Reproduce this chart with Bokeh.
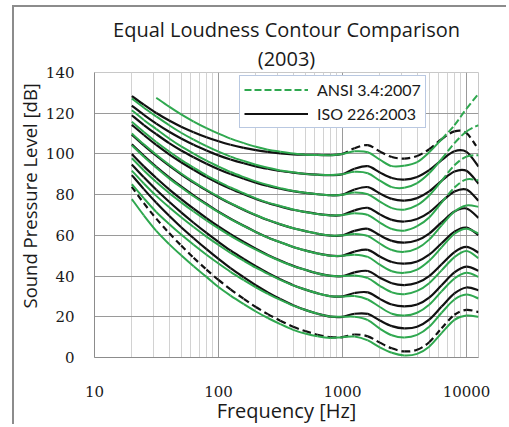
import math
from bokeh.plotting import figure
from bokeh.layouts import row, column
from bokeh.models import (FixedTicker, Legend, LegendItem, Range1d, Title,
                          PrintfTickFormatter, ColumnDataSource, Spacer)
from bokeh.embed import file_html
from bokeh.resources import INLINE

nan = float("nan")

# ---------------- data ----------------
FREQ = [20, 25, 31.5, 40, 50, 63, 80, 100, 125, 160, 200, 250, 315, 400, 500,
        630, 800, 1000, 1250, 1600, 2000, 2500, 3150, 4000, 5000, 6300, 8000,
        10000, 12500]
PHONS = [10, 20, 30, 40, 50, 60, 70, 80, 90, 100]

# ISO 226:2003 contours (dB SPL)
iso_p10 = [83.8, 75.8, 68.2, 61.1, 55.0, 49.0, 43.2, 38.1, 33.5, 28.8, 24.8, 21.3, 18.1, 15.1, 13.0, 11.2, 10.0, 10.0, 11.3, 10.4, 7.3, 4.5, 3.0, 3.8, 7.5, 14.4, 21.0, 23.4, 22.3]
iso_p20 = [89.6, 82.7, 76.0, 69.6, 64.0, 58.6, 53.2, 48.4, 43.9, 39.4, 35.5, 32.0, 28.7, 25.7, 23.4, 21.5, 20.1, 20.0, 21.5, 21.4, 18.2, 15.4, 14.3, 15.1, 18.6, 25.0, 31.5, 34.4, 33.0]
iso_p30 = [94.8, 88.5, 82.4, 76.5, 71.3, 66.2, 61.2, 56.8, 52.6, 48.4, 44.8, 41.5, 38.4, 35.5, 33.4, 31.5, 30.1, 30.0, 31.7, 32.0, 28.8, 26.0, 25.1, 26.0, 29.4, 35.5, 41.8, 44.6, 42.6]
iso_p40 = [99.9, 93.9, 88.2, 82.6, 77.8, 73.1, 68.5, 64.4, 60.6, 56.7, 53.4, 50.4, 47.6, 45.0, 43.1, 41.3, 40.1, 40.0, 41.8, 42.5, 39.2, 36.5, 35.6, 36.7, 40.0, 45.8, 51.8, 54.3, 51.5]
iso_p50 = [104.7, 99.1, 93.7, 88.5, 84.0, 79.6, 75.4, 71.6, 68.2, 64.7, 61.7, 59.0, 56.6, 54.3, 52.6, 51.1, 50.0, 50.0, 52.0, 52.9, 49.6, 46.9, 46.1, 47.2, 50.5, 56.1, 61.8, 63.8, 60.1]
iso_p60 = [109.5, 104.2, 99.1, 94.2, 90.0, 85.9, 82.1, 78.7, 75.6, 72.5, 69.9, 67.5, 65.4, 63.5, 62.1, 60.8, 59.9, 60.0, 62.2, 63.2, 60.0, 57.3, 56.4, 57.6, 60.9, 66.4, 71.7, 73.2, 68.6]
iso_p70 = [114.3, 109.3, 104.4, 99.8, 95.9, 92.2, 88.6, 85.6, 82.9, 80.2, 77.9, 75.9, 74.2, 72.6, 71.5, 70.5, 69.8, 70.0, 72.3, 73.5, 70.3, 67.6, 66.8, 68.0, 71.3, 76.6, 81.5, 82.5, 77.0]
iso_p80 = [119.0, 114.2, 109.7, 105.3, 101.7, 98.4, 95.2, 92.5, 90.1, 87.8, 85.9, 84.3, 82.9, 81.7, 80.9, 80.2, 79.7, 80.0, 82.5, 83.7, 80.6, 77.9, 77.1, 78.3, 81.6, 86.8, 91.4, 91.7, 85.4]
iso_p90 = [123.7, 119.2, 114.9, 110.9, 107.6, 104.5, 101.7, 99.3, 97.3, 95.4, 93.9, 92.7, 91.6, 90.8, 90.2, 89.8, 89.6, 90.0, 92.7, 94.0, 90.9, 88.2, 87.4, 88.7, 92.0, 97.0, 101.3, 101.0, 93.8]
iso_p100 = [128.4, 124.2, 120.1, 116.4, 113.4, 110.7, 108.2, 106.2, 104.5, 103.0, 101.9, 101.0, 100.3, 99.8, 99.6, 99.5, 99.4, 100.0, 102.8, 104.3, 101.2, 98.5, 97.7, 99.0, 102.3, 107.2, 111.1, 110.2, 102.1]

# ANSI S3.4:2007 contours (dB SPL)
ansi_p10 = [77.8, 69.8, 62.2, 55.7, 50.2, 44.8, 39.6, 34.6, 30.4, 26.2, 22.6, 19.4, 16.4, 13.6, 11.8, 10.4, 9.6, 10.0, 10.3, 8.4, 5.0, 2.3, 1.0, 1.8, 5.3, 12.0, 18.5, 20.6, 20.0]
ansi_p20 = [85.1, 78.2, 71.5, 65.6, 60.4, 55.4, 50.5, 46.2, 42.1, 38.0, 34.5, 31.3, 28.3, 25.5, 23.4, 21.5, 20.1, 20.0, 20.0, 18.4, 14.2, 10.9, 9.8, 11.1, 15.1, 22.0, 28.5, 30.9, 29.0]
ansi_p30 = [91.8, 85.5, 79.4, 73.8, 68.9, 64.1, 59.4, 55.3, 51.4, 47.5, 44.1, 41.1, 38.1, 35.4, 33.4, 31.5, 30.1, 30.0, 30.2, 28.5, 24.8, 21.5, 20.6, 22.0, 25.9, 32.5, 38.8, 41.6, 39.6]
ansi_p40 = [97.9, 91.9, 86.2, 80.8, 76.2, 71.7, 67.3, 63.4, 59.8, 56.1, 53.0, 50.1, 47.4, 44.9, 43.1, 41.3, 40.1, 40.0, 40.3, 39.0, 35.2, 32.0, 31.1, 32.7, 36.5, 42.8, 49.3, 52.3, 48.8]
ansi_p50 = [104.2, 98.6, 93.2, 88.0, 83.6, 79.2, 75.1, 71.4, 68.0, 64.6, 61.6, 58.9, 56.6, 54.3, 52.6, 51.1, 50.0, 50.0, 50.5, 49.4, 45.6, 42.4, 41.6, 43.2, 47.5, 54.1, 60.8, 63.3, 60.9]
ansi_p60 = [110.0, 104.7, 99.6, 94.7, 90.4, 86.3, 82.4, 79.0, 75.8, 72.7, 70.0, 67.6, 65.5, 63.5, 62.1, 60.8, 59.9, 60.0, 60.7, 59.7, 56.0, 52.8, 51.9, 53.6, 57.9, 64.9, 71.7, 74.7, 74.0]
ansi_p70 = [115.8, 110.8, 105.9, 101.2, 97.1, 93.3, 89.5, 86.4, 83.5, 80.7, 78.2, 76.1, 74.4, 72.7, 71.5, 70.5, 69.8, 70.0, 70.8, 70.0, 66.3, 63.1, 62.3, 64.5, 68.8, 76.1, 83.5, 87.5, 87.0]
ansi_p80 = [121.5, 116.7, 112.2, 107.6, 103.7, 100.2, 96.7, 93.8, 91.1, 88.6, 86.5, 84.7, 83.2, 81.8, 80.9, 80.2, 79.7, 80.0, 81.0, 80.2, 76.6, 73.4, 72.6, 74.8, 79.6, 86.8, 94.4, 98.7, 99.4]
ansi_p90 = [127.2, 122.7, 118.4, 114.1, 110.4, 107.0, 103.8, 101.1, 98.7, 96.5, 94.7, 93.2, 91.9, 91.0, 90.2, 89.8, 89.6, 90.0, 91.2, 90.5, 86.9, 83.7, 83.4, 85.7, 90.5, 97.5, 105.3, 111.0, 114.2]
ansi_p100 = [nan, nan, 127.6, 123.2, 119.4, 115.9, 112.7, 110.0, 107.5, 105.3, 103.5, 102.1, 101.1, 100.2, 99.6, 99.5, 99.4, 100.0, 101.3, 100.8, 97.2, 94.0, 94.2, 96.0, 100.8, 107.2, 114.1, 122.2, 129.6]

X_MAJOR = [10, 100, 1000, 10000]
X_MINOR = [20, 30, 40, 50, 60, 70, 80, 90, 200, 300, 400, 500, 600, 700, 800,
           900, 2000, 3000, 4000, 5000, 6000, 7000, 8000, 9000]
Y_TICKS = [0, 20, 40, 60, 80, 100, 120, 140]

TITLE_1 = "Equal Loudness Contour Comparison"
TITLE_2 = "(2003)"
X_TITLE = "Frequency [Hz]"
Y_TITLE = "Sound Pressure Level [dB]"
ANSI_NAME = "ANSI 3.4:2007"
ISO_NAME = "ISO 226:2003"

iso_curves = [iso_p10, iso_p20, iso_p30, iso_p40, iso_p50, iso_p60, iso_p70,
              iso_p80, iso_p90, iso_p100]
ansi_curves = [ansi_p10, ansi_p20, ansi_p30, ansi_p40, ansi_p50, ansi_p60,
               ansi_p70, ansi_p80, ansi_p90, ansi_p100]

GREEN = "#2fa84f"
BLACK = "#111111"
AXIS_GRAY = "#8c8c8c"
TEXT = "#1a1a1a"

# ---------------- figure ----------------
fig = figure(width=494, height=419, x_axis_type="log",
             x_range=Range1d(10, 12500), y_range=Range1d(0, 140),
             output_backend="svg", toolbar_location=None,
             min_border_left=80, min_border_right=30,
             min_border_top=65, min_border_bottom=69)
fig.styles = {"border-left": "2px solid #8c8c8c",
              "border-top": "2px solid #8c8c8c"}
fig.background_fill_color = "white"
fig.border_fill_color = "white"
fig.outline_line_color = "#c8c8c8"
fig.outline_line_width = 1

# titles: the default title is the outer one, the added one sits nearer the frame
fig.title.text = TITLE_1
fig.title.align = "center"
fig.title.standoff = 0
fig.title.text_font = "Open Sans"
fig.title.text_font_size = "20px"
fig.title.text_font_style = "normal"
fig.title.text_color = TEXT
fig.add_layout(Title(text=TITLE_2, align="center", standoff=1,
                     text_font="Open Sans", text_font_size="20px",
                     text_font_style="normal", text_color=TEXT), "above")
fig.add_layout(Title(text=Y_TITLE, align="left", offset=49, standoff=1,
                     text_font="Open Sans", text_font_size="18.5px",
                     text_font_style="normal", text_color=TEXT), "left")

fig.xaxis.ticker = FixedTicker(ticks=X_MAJOR, minor_ticks=X_MINOR)
fig.xaxis.formatter = PrintfTickFormatter(format="%d")
fig.yaxis.ticker = FixedTicker(ticks=Y_TICKS)
for ax in (fig.xaxis, fig.yaxis):
    ax.major_tick_line_color = None
    ax.minor_tick_line_color = None
    ax.major_tick_out = 0
    ax.major_tick_in = 0
    ax.axis_line_color = AXIS_GRAY
    ax.axis_line_width = 1
    ax.major_label_text_font = "DejaVu Serif"
    ax.major_label_text_font_size = "15px"
    ax.major_label_text_color = TEXT
fig.xaxis.major_label_standoff = 24
fig.yaxis.major_label_standoff = 20
fig.xaxis.axis_label = X_TITLE
fig.xaxis.axis_label_standoff = -3
fig.xaxis.axis_label_text_font = "Open Sans"
fig.xaxis.axis_label_text_font_size = "20px"
fig.xaxis.axis_label_text_font_style = "normal"
fig.xaxis.axis_label_text_color = TEXT

fig.xgrid.grid_line_color = "#9a9a9a"
fig.xgrid.minor_grid_line_color = "#d2d2d2"
fig.ygrid.grid_line_color = "#9a9a9a"


# ---------------- smooth (Excel-like) drawing of the read points ----------
def bezier_parts(xs, ys, split_at=None):
    """Return (before, after) bezier segment dicts; split at data index."""
    pts = [(i, math.log10(x), y) for i, (x, y) in enumerate(zip(xs, ys))
           if not math.isnan(y)]
    n = len(pts)
    parts = [dict(x0=[], y0=[], x1=[], y1=[], cx0=[], cy0=[], cx1=[], cy1=[])
             for _ in range(2)]
    for k in range(n - 1):
        p0 = pts[max(k - 1, 0)]
        p1 = pts[k]
        p2 = pts[k + 1]
        p3 = pts[min(k + 2, n - 1)]
        c1x = p1[1] + (p2[1] - p0[1]) / 6.0
        c1y = p1[2] + (p2[2] - p0[2]) / 6.0
        c2x = p2[1] - (p3[1] - p1[1]) / 6.0
        c2y = p2[2] - (p3[2] - p1[2]) / 6.0
        d = parts[1 if (split_at is not None and p1[0] >= split_at) else 0]
        d["x0"].append(10 ** p1[1]); d["y0"].append(p1[2])
        d["x1"].append(10 ** p2[1]); d["y1"].append(p2[2])
        d["cx0"].append(10 ** c1x); d["cy0"].append(c1y)
        d["cx1"].append(10 ** c2x); d["cy1"].append(c2y)
    return parts


def draw(seg, color, width, dash="solid"):
    if not seg["x0"]:
        return None
    return fig.bezier(x0="x0", y0="y0", x1="x1", y1="y1", cx0="cx0",
                      cy0="cy0", cx1="cx1", cy1="cy1",
                      source=ColumnDataSource(seg), line_color=color,
                      line_width=width, line_dash=dash)


iso_legend_r = None
k1000 = FREQ.index(1000)
for ph, ys in zip(PHONS, iso_curves):
    if ph == 10:
        a, b = bezier_parts(FREQ, ys)
        draw(a, BLACK, 2.2, "6 4")
    elif ph == 100:
        a, b = bezier_parts(FREQ, ys, split_at=k1000)
        draw(a, BLACK, 2.2)
        draw(b, BLACK, 2.2, "6 4")
    else:
        a, b = bezier_parts(FREQ, ys)
        r = draw(a, BLACK, 2.2)
        iso_legend_r = iso_legend_r or r

ansi_legend_r = None
k6300 = FREQ.index(6300)
for ph, ys in zip(PHONS, ansi_curves):
    if ph >= 70:
        a, b = bezier_parts(FREQ, ys, split_at=k6300)
        draw(a, GREEN, 2)
        r = draw(b, GREEN, 2, "7 3")
        ansi_legend_r = ansi_legend_r or r
    else:
        a, b = bezier_parts(FREQ, ys)
        draw(a, GREEN, 2)

legend = Legend(items=[LegendItem(label=ANSI_NAME, renderers=[ansi_legend_r]),
                       LegendItem(label=ISO_NAME, renderers=[iso_legend_r])],
                location=(145, 229))
legend.glyph_width = 64
legend.glyph_height = 19
legend.label_height = 19
legend.spacing = 5
legend.padding = 4
legend.margin = 0
legend.label_standoff = 9
legend.label_text_font = "Lato"
legend.label_text_font_size = "16px"
legend.label_text_color = TEXT
legend.border_line_color = "#7391c4"
legend.border_line_width = 1.5
legend.background_fill_color = "white"
legend.background_fill_alpha = 1
fig.add_layout(legend)

p = column(Spacer(width=10, height=5),
           row(Spacer(width=12, height=419), fig))

open("out.html", "w").write(file_html(p, INLINE))
